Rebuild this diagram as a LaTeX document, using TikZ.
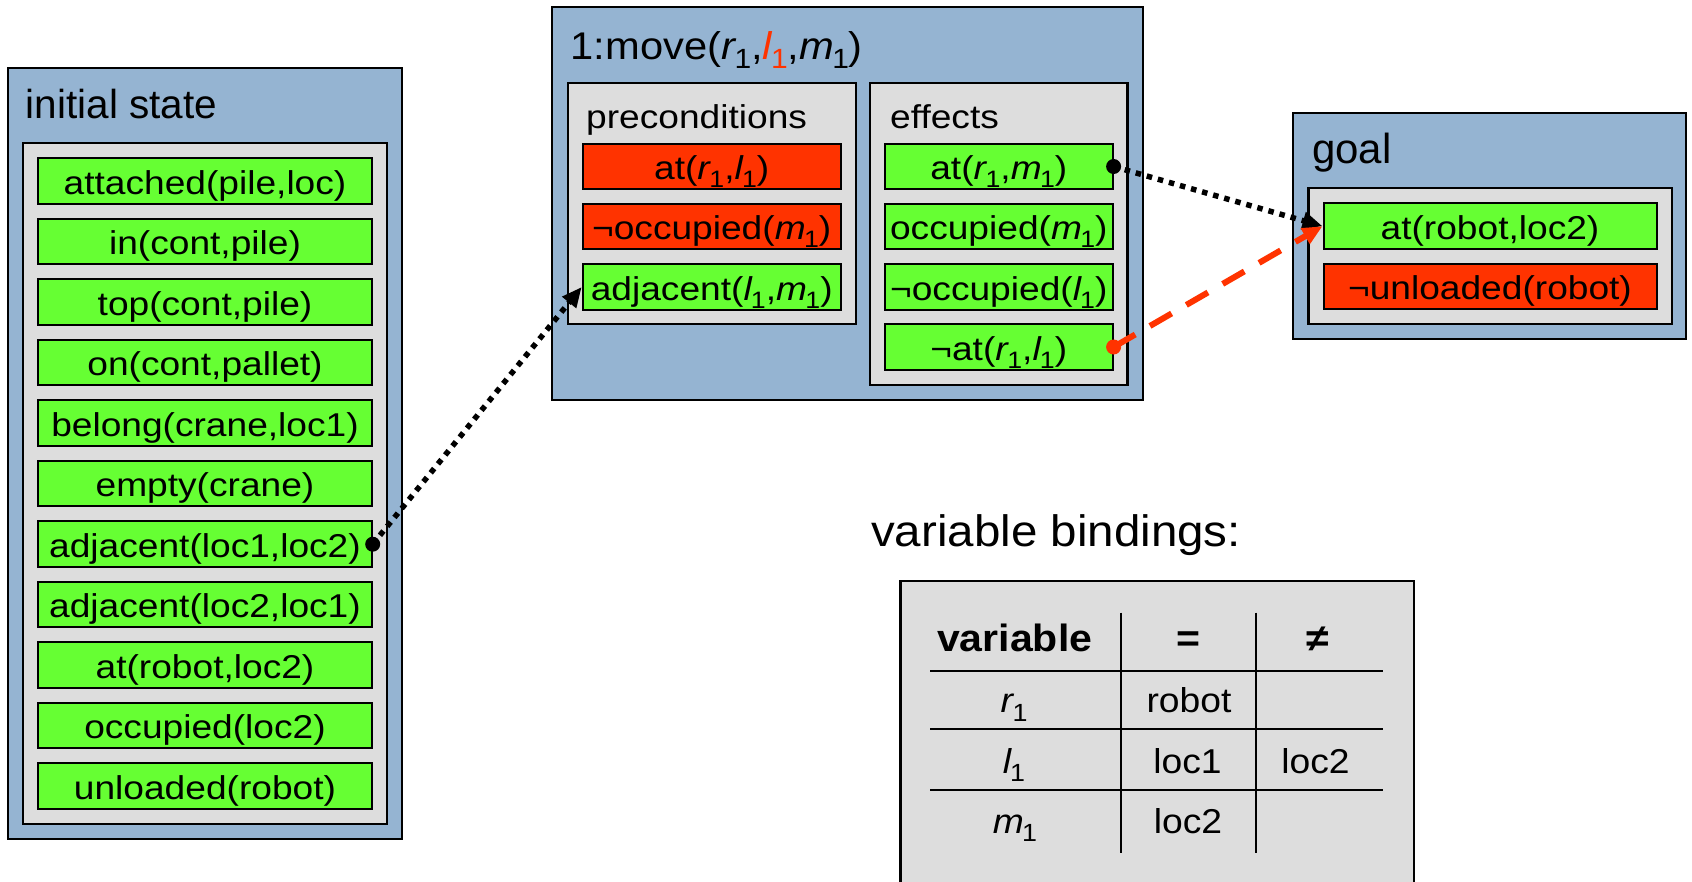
\documentclass[tikz,border=0pt]{standalone}
\usepackage{fontspec}
\usepackage{graphicx}
\setmainfont{Liberation Sans}
\newfontfamily\factfont[FakeStretch=1.125]{Liberation Sans}
\newfontfamily\midfont[FakeStretch=1.08]{Liberation Sans}
\usetikzlibrary{arrows.meta}

\definecolor{boxblue}{RGB}{149,180,210}
\definecolor{boxgray}{RGB}{221,221,221}
\definecolor{factgreen}{RGB}{102,255,51}
\definecolor{factred}{RGB}{255,51,0}

% italic variable with an upright subscript
\newcommand\vv[2]{\textit{#1}\kern-0.05em\raisebox{-0.25em}{\scalebox{0.72}{#2}}}
% framed panel given by its corners: name, style, x1, y1, x2, y2
\newcommand\panel[6]{\node[#2, minimum width={(#5)-(#3)}, minimum height={(#6)-(#4)}] (#1) at ({((#3)+(#5))/2},{((#4)+(#6))/2}) {};}
% fact box: name, style, x1, x2, y centre, text
\newcommand\fact[6]{\node[#2, minimum width={(#4)-(#3)}] (#1) at ({((#3)+(#4))/2},#5) {#6};}

\tikzset{
  bluebox/.style={draw=black, line width=2pt, fill=boxblue, inner sep=0pt},
  graybox/.style={draw=black, line width=2.2pt, fill=boxgray, inner sep=0pt},
  fact/.style={draw=black, line width=2pt, inner sep=0pt, minimum height=45.5pt,
    text height=26pt, text depth=0pt, font=\factfont\fontsize{33}{39}\selectfont},
  good/.style={fact, fill=factgreen},
  bad/.style={fact, fill=factred},
  title/.style={anchor=base west, inner sep=0pt, font=\fontsize{40.5}{46}\selectfont},
  subtitle/.style={anchor=base west, inner sep=0pt, font=\factfont\fontsize{33}{39}\selectfont},
  cell/.style={anchor=base, inner sep=0pt, font=\midfont\fontsize{34.5}{40}\selectfont},
  headcell/.style={anchor=base, inner sep=0pt, font=\midfont\bfseries\fontsize{38}{44}\selectfont},
  rule/.style={line width=2pt, black},
  dotlink/.style={line width=5.5pt, black, dash pattern=on 5.5pt off 6pt,
    -{Triangle[length=20pt,width=17pt]}},
  dashlink/.style={line width=6pt, factred, dash pattern=on 25pt off 17pt,
    -{Triangle[length=20pt,width=17pt]}},
}

\begin{document}
\begin{tikzpicture}[x=1pt,y=-1pt]
\clip (0,0) rectangle (1692,881);

% ---------- initial state ----------
\panel{init}{bluebox}{7.5}{67.5}{401.5}{839}
\node[title] (initT) at (25.6,118.3) {initial state};
\panel{initIn}{graybox}{23}{143}{387}{824}
\fact{s1}{good}{38.3}{371.7}{181.2}{attached(pile,loc)}
\fact{s2}{good}{38.3}{371.7}{241.7}{in(cont,pile)}
\fact{s3}{good}{38.3}{371.7}{302.2}{top(cont,pile)}
\fact{s4}{good}{38.3}{371.7}{362.7}{on(cont,pallet)}
\fact{s5}{good}{38.3}{371.7}{423.2}{belong(crane,loc1)}
\fact{s6}{good}{38.3}{371.7}{483.7}{empty(crane)}
\fact{s7}{good}{38.3}{371.7}{544.2}{adjacent(loc1,loc2)}
\fact{s8}{good}{38.3}{371.7}{604.7}{adjacent(loc2,loc1)}
\fact{s9}{good}{38.3}{371.7}{665.2}{at(robot,loc2)}
\fact{s10}{good}{38.3}{371.7}{725.7}{occupied(loc2)}
\fact{s11}{good}{38.3}{371.7}{786.2}{unloaded(robot)}

% ---------- action ----------
\panel{move}{bluebox}{551.7}{6.7}{1142.5}{400}
\node[title, font=\midfont\fontsize{38.6}{44}\selectfont] (moveT) at (570.5,59.3)
  {1:move(\vv{r}{1},\textcolor{factred}{\vv{l}{1}},\vv{m}{1})};
\panel{pre}{graybox}{567.7}{82.7}{855.7}{324}
\node[subtitle] (preT) at (586,128.3) {preconditions};
\fact{p1}{bad}{582.7}{840.7}{166.5}{at(\vv{r}{1},\vv{l}{1})}
\fact{p2}{bad}{582.7}{840.7}{226.3}{¬occupied(\vv{m}{1})}
\fact{p3}{good}{582.7}{840.7}{287}{adjacent(\vv{l}{1},\vv{m}{1})}
\panel{eff}{graybox}{870}{82.7}{1127.5}{385}
\node[subtitle] (effT) at (890,128.3) {effects};
\fact{e1}{good}{885}{1112.6}{166.5}{at(\vv{r}{1},\vv{m}{1})}
\fact{e2}{good}{885}{1112.6}{226.3}{occupied(\vv{m}{1})}
\fact{e3}{good}{885}{1112.6}{287}{¬occupied(\vv{l}{1})}
\fact{e4}{good}{885}{1112.6}{347}{¬at(\vv{r}{1},\vv{l}{1})}

% ---------- goal ----------
\panel{goal}{bluebox}{1293.3}{112.7}{1686}{339.3}
\node[title, font=\fontsize{42}{48}\selectfont] (goalT) at (1312,163.3) {goal};
\panel{goalIn}{graybox}{1308.4}{188.3}{1672}{324}
\fact{g1}{good}{1323.5}{1656.5}{226.2}{at(robot,loc2)}
\fact{g2}{bad}{1323.5}{1656.5}{286.7}{¬unloaded(robot)}

% ---------- variable bindings ----------
\node[title, font=\midfont\fontsize{44}{50}\selectfont] (bindT) at (871,546.7) {variable bindings:};
\panel{tab}{graybox}{900.5}{581}{1414}{900}
\coordinate (h1a) at (930,671);    \coordinate (h1b) at (1383,671);
\coordinate (h2a) at (930,729.3);  \coordinate (h2b) at (1383,729.3);
\coordinate (h3a) at (930,790);    \coordinate (h3b) at (1383,790);
\coordinate (v1a) at (1121,612.7); \coordinate (v1b) at (1121,853.3);
\coordinate (v2a) at (1256,612.7); \coordinate (v2b) at (1256,853.3);
\draw[rule] (h1a) -- (h1b);
\draw[rule] (h2a) -- (h2b);
\draw[rule] (h3a) -- (h3b);
\draw[rule] (v1a) -- (v1b);
\draw[rule] (v2a) -- (v2b);
\node[headcell] (cVar) at (1014.7,651.7) {variable};
\node[headcell] (cEq)  at (1188.3,651.7) {=};
\node[headcell] (cNe)  at (1318,651.7) {≠};
\node[cell] (r1v) at (1014,712.7) {\vv{r}{1}};
\node[cell] (r1e) at (1189,712.7) {robot};
\node[cell] (l1v) at (1014,773.3) {\vv{l}{1}};
\node[cell] (l1e) at (1187.5,773.3) {loc1};
\node[cell] (l1n) at (1315.5,773.3) {loc2};
\node[cell] (m1v) at (1015,833.3) {\vv{m}{1}};
\node[cell] (m1e) at (1188,833.3) {loc2};

% ---------- causal links ----------
\draw[dotlink] (s7.east) -- (p3.west);
\fill[black] (s7.east) circle[radius=7.5pt];
\draw[dotlink] (e1.east) -- (g1.west);
\fill[black] (e1.east) circle[radius=7.5pt];
\draw[dashlink] (e4.east) -- (g1.west);
\fill[factred] (e4.east) circle[radius=7.5pt];
\end{tikzpicture}
\end{document}
